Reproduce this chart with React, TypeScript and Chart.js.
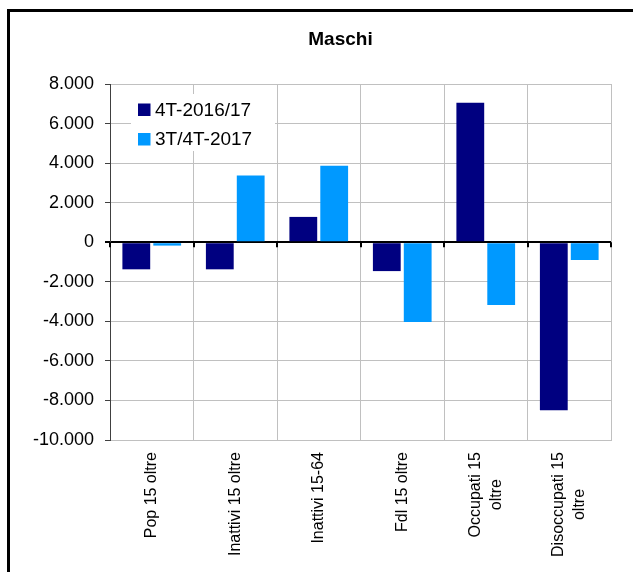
import { useEffect, useRef } from 'react';
import { Chart, registerables } from 'chart.js';

Chart.register(...registerables);

const categories: string[][] = [
  ['Pop 15 oltre'],
  ['Inattivi 15 oltre'],
  ['Inattivi 15-64'],
  ['Fdl 15 oltre'],
  ['Occupati 15', 'oltre'],
  ['Disoccupati 15', 'oltre'],
];
const seriesNames = ['4T-2016/17', '3T/4T-2017'];
const series4T = [-1370, -1370, 1280, -1460, 7050, -8500];
const series3T = [-170, 3370, 3870, -4040, -3180, -900];
const yMin = -10000;
const yMax = 8000;
const yStep = 2000;
const titleText = 'Maschi';

const FONT = "'Liberation Sans', Arial, sans-serif";
const DARK = '#000080';
const LIGHT = '#0099FF';

function fmt(v: number): string {
  const s = Math.abs(v).toString().replace(/\B(?=(\d{3})+(?!\d))/g, '.');
  return (v < 0 ? '-' : '') + s;
}

const decorPlugin = {
  id: 'decor',
  beforeDatasetsDraw(chart: any) {
    const { ctx, chartArea } = chart;
    ctx.save();
    // title
    ctx.fillStyle = '#000';
    ctx.font = `bold 19px ${FONT}`;
    ctx.textAlign = 'center';
    ctx.textBaseline = 'middle';
    ctx.fillText(titleText, (chartArea.left + chartArea.right) / 2 - 20, 40);
    // legend (inside plot area, white box over gridlines)
    const lx = chartArea.left + 21;
    const ly = chartArea.top + 10;
    ctx.fillStyle = '#ffffff';
    ctx.fillRect(lx, ly, 144, 57);
    chart.data.datasets.forEach((ds: any, i: number) => {
      const cy = chartArea.top + 25.5 + i * 29.5;
      ctx.fillStyle = ds.backgroundColor;
      ctx.fillRect(chartArea.left + 28, cy - 6, 12.5, 12.5);
      ctx.fillStyle = '#000';
      ctx.font = `19px ${FONT}`;
      ctx.textAlign = 'left';
      ctx.textBaseline = 'middle';
      ctx.fillText(ds.label, chartArea.left + 45, cy + 1);
    });
    ctx.restore();
  },
  afterDatasetsDraw(chart: any) {
    const { ctx, chartArea, scales } = chart;
    const x = scales.x;
    const y = scales.y;
    const y0 = y.getPixelForValue(0);
    ctx.save();
    // tick marks on the zero line at category boundaries
    ctx.strokeStyle = '#000';
    ctx.lineWidth = 2;
    for (let i = 0; i <= categories.length; i++) {
      const px = Math.round(x.getPixelForValue(i - 0.5));
      ctx.beginPath();
      ctx.moveTo(px, y0);
      ctx.lineTo(px, y0 + 5);
      ctx.stroke();
    }
    // rotated category labels, lines centred on each other
    ctx.fillStyle = '#000';
    ctx.font = `16px ${FONT}`;
    ctx.textAlign = 'center';
    ctx.textBaseline = 'middle';
    const lh = 21;
    (chart.data.labels as any[]).forEach((lab, i) => {
      const lines: string[] = Array.isArray(lab) ? lab : [lab];
      const w = Math.max(...lines.map((l) => ctx.measureText(l).width));
      const cx = x.getPixelForValue(i);
      const cy = chartArea.bottom + 12 + w / 2;
      lines.forEach((l, j) => {
        ctx.save();
        ctx.translate(cx + (j - (lines.length - 1) / 2) * lh, cy);
        ctx.rotate(-Math.PI / 2);
        ctx.fillText(l, 0, 0);
        ctx.restore();
      });
    });
    ctx.restore();
  },
};

export default function App() {
  const ref = useRef<HTMLCanvasElement | null>(null);

  useEffect(() => {
    if (!ref.current) return;
    const chart = new Chart(ref.current, {
      type: 'bar',
      data: {
        labels: categories,
        datasets: [
          {
            label: seriesNames[0],
            data: series4T,
            backgroundColor: DARK,
            borderWidth: 0,
            categoryPercentage: 0.74,
            barPercentage: 0.9,
          },
          {
            label: seriesNames[1],
            data: series3T,
            backgroundColor: LIGHT,
            borderWidth: 0,
            categoryPercentage: 0.74,
            barPercentage: 0.9,
          },
        ],
      },
      options: {
        responsive: false,
        animation: false,
        layout: { padding: { left: 0, right: 22, top: 84, bottom: 0 } },
        plugins: {
          legend: { display: false },
          tooltip: { enabled: false },
          title: { display: false },
        },
        scales: {
          x: {
            offset: true,
            grid: { offset: true, color: '#c0c0c0', drawTicks: false, lineWidth: 1 },
            border: { color: '#c0c0c0' },
            ticks: { display: false },
            afterFit: (s: any) => {
              s.height = 132;
            },
          },
          y: {
            min: yMin,
            max: yMax,
            ticks: {
              stepSize: yStep,
              callback: (v: any) => fmt(Number(v)),
              font: { family: FONT, size: 18 },
              color: '#000',
              padding: 11,
            },
            grid: {
              color: (c: any) => (c.tick && c.tick.value === 0 ? '#000' : '#c0c0c0'),
              lineWidth: (c: any) => (c.tick && c.tick.value === 0 ? 2 : 1),
              tickLength: 5,
              tickColor: (c: any) => (c.tick && c.tick.value === 0 ? '#000' : '#404040'),
            },
            border: { color: '#404040' },
            afterFit: (s: any) => {
              s.width = 110;
            },
          },
        },
      },
      plugins: [decorPlugin],
    });
    return () => chart.destroy();
  }, []);

  return (
    <div
      style={{
        position: 'fixed',
        left: 0,
        top: 0,
        width: 633,
        height: 572,
        overflow: 'hidden',
        background: '#fff',
      }}
    >
      <div
        style={{
          position: 'absolute',
          left: 7,
          top: 9,
          width: 700,
          height: 700,
          borderTop: '3px solid #000',
          borderLeft: '3px solid #000',
        }}
      />
      <canvas ref={ref} width={633} height={572} style={{ position: 'absolute', left: 0, top: 0 }} />
    </div>
  );
}
